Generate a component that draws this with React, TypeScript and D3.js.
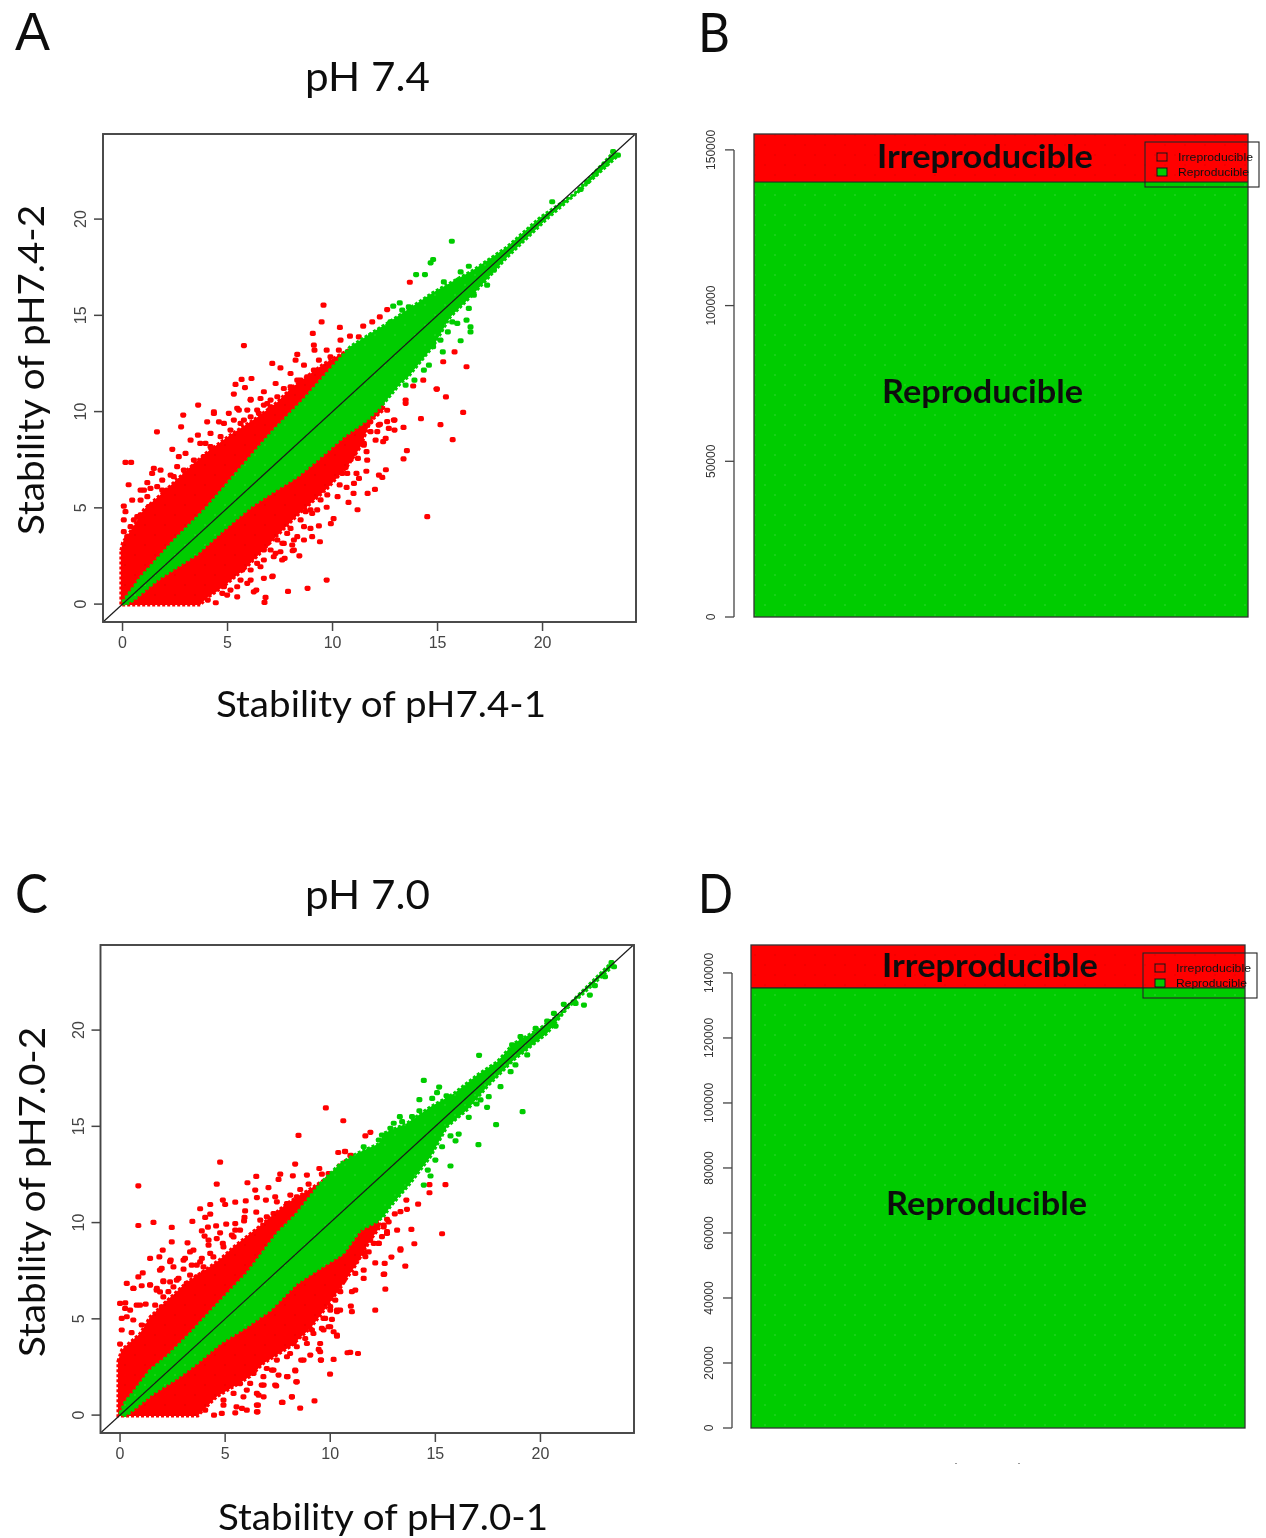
import React from 'react'
import * as d3 from 'd3'

type P = [number, number]

// pH 7.4 replicate scatter: dense band edges, then the single dots
const aRedUpper: P[] = [[-0.08, 2.8], [0, 3.2], [0.5, 4], [1, 4.9], [2.13, 6], [3, 6.9], [4.03, 7.9], [5.14, 8.8], [6.41, 9.7], [7.37, 10.5], [8, 11.2], [9.6, 12.5], [10.9, 13.3], [12, 14]]
const aRedLower: P[] = [[-0.08, -0.05], [3.7, -0.05], [4, 0.3], [4.8, 0.9], [5.9, 1.9], [7.05, 3.2], [8.32, 4.6], [9.75, 6], [10.7, 7.14], [11.34, 8.18], [11.81, 9.5], [12.45, 10.1]]
const aGreenUpper: P[] = [[0, 0.1], [0.86, 1.4], [2.44, 3.3], [4.03, 5.05], [5.6, 7.05], [7.2, 9.04], [8.6, 10.6], [10.86, 13.4], [12.76, 14.7], [14.8, 16.2], [16.7, 17.35], [18.3, 18.55], [19.9, 20.1], [21.5, 21.3], [23.4, 23.5]]
const aGreenLower: P[] = [[0.1, -0.05], [0.52, 0.2], [1.65, 1.25], [3.55, 2.6], [4.8, 3.84], [6.1, 5.05], [7.05, 5.75], [8.32, 6.62], [9.27, 7.48], [10.54, 8.7], [11.65, 9.56], [12.45, 10.43], [13.24, 11.47], [13.6, 11.8], [14.8, 13.4], [15.6, 14.9], [16.7, 16.1], [18.3, 18], [20.2, 20], [21.8, 21.5], [23.6, 23.3]]
const aRedDots: P[] = [
  [16.22, 9.96], [15.4, 10.76], [14.97, 11.17], [15.14, 9.32], [14.21, 9.63], [15.72, 8.54], [13.38, 9.18], [13.54, 7.97], [13.38, 7.54], [14.51, 4.54], [12.54, 6.98], [12.21, 6.7], [12.37, 6.58], [12.02, 5.96], [11.67, 5.75], [11, 5.75], [11.61, 6.9], [10.24, 5.58], [10.76, 5.28], [11.19, 4.9], [9.72, 5.03], [10.05, 4.44], [9.92, 4.18], [9.35, 4.06], [9.4, 3.24], [8.42, 2.51], [8.1, 2.77], [7.72, 2.38], [9.72, 1.25], [8.81, 0.82], [7.88, 0.66], [7.15, 1.46],
  [13.84, 11.33], [13.48, 10.6], [13.48, 10.43], [12.6, 9.48], [12.95, 9.56], [12.68, 9.13], [12.95, 9.04], [12.26, 9.34], [12.53, 8.61], [12.05, 8.52], [12.41, 8.44], [11.81, 8.96], [12.13, 8.96], [11.65, 7.48], [11.62, 7.92], [11.21, 7.57], [10.86, 7.52], [11.26, 8.52], [11.49, 8.26], [11.1, 8.09], [11.14, 6.79], [11.26, 6.53], [11.02, 6.27], [10.67, 6.06], [10.34, 6.19], [10.62, 7.1], [10.7, 6.79], [10.46, 6.79], [10.07, 6.62], [9.83, 6.36], [9.75, 5.67], [9.43, 5.41], [9.11, 5.75], [9.51, 6.96], [10.07, 7.22], [9.03, 4.71], [8.72, 4.8], [8.95, 3.93], [9.03, 3.5], [8.64, 4.02], [8.32, 3.5], [8.08, 3.07], [7.29, 2.64], [7.61, 3.16],
  [2.79, 9.21], [2.89, 9.82], [3.6, 10.34], [1.64, 8.95], [0.14, 7.36], [0.41, 7.36], [0.29, 6.2], [0.06, 5.09], [0.46, 5.4], [0.86, 5.4], [0.54, 4.37], [0.06, 4.37], [0.06, 3.76], [0.7, 4.54], [1.18, 6.31], [1.49, 7.05], [1.81, 6.96], [1.41, 6.79], [2.13, 5.92], [2.37, 8.04], [2.68, 7.66], [3, 7.83], [3.24, 8.52], [3.59, 8.78], [4.03, 9.47], [4.35, 9.99], [4.59, 9.47], [5.06, 9.91], [5.46, 10.17], [5.78, 9.56], [6.1, 10.6], [6.73, 10.34], [7.05, 10.6], [6.49, 9.91], [3.95, 8.35], [3.7, 7.4], [3.4, 7.14], [2.6, 7.14], [2.29, 6.7], [1.89, 6.44], [1.33, 6.01], [1.02, 5.92], [0.14, 4.8],
  [6.81, 0.35], [6.76, 0.09], [6.37, 0.73], [6.25, 0.64], [7.13, 1.42], [6.73, 1.34], [4.44, 0.07], [4.06, 0.21], [7.6, 2.29], [7.52, 2.72], [8.16, 2.81], [8.16, 3.33], [8.64, 3.33], [4.83, 0.9], [4.98, 0.47], [5.46, 0.9], [5.46, 0.38], [5.94, 1.08], [6.1, 1.77], [6.57, 1.94], [7.05, 2.81], [6.41, 2.72], [7.2, 2.46], [7.68, 3.15], [7.84, 3.67], [6.89, 3.15], [5.62, 2.46], [5.3, 1.77],
  [9.57, 15.53], [9.48, 14.66], [9.06, 14.06], [5.78, 13.43], [10.35, 14.37], [9.11, 13.45], [9.14, 13.19], [8.32, 12.97], [9.72, 13.19], [10.38, 13.71], [10.3, 13.19], [10.83, 13.92], [11.25, 13.88], [11.46, 14.44], [11.89, 14.66], [12.25, 14.92], [12.6, 15.3], [7.13, 12.5], [7.52, 12.27], [8.24, 12.67], [8.64, 12.41], [9.35, 12.67], [6.14, 11.72], [5.67, 11.67], [5.38, 11.41], [5.83, 11.25], [5.3, 10.91], [6.1, 10.63], [4.35, 9.9], [8, 11.98], [7.29, 11.46], [6.73, 11.03], [6.57, 10.68], [7.68, 11.2], [8.79, 11.81], [9.59, 12.15], [9.98, 12.15], [10.54, 12.93], [8.32, 11.63], [7.05, 10.25], [5.94, 10.08], [5.54, 10.08],
  [13.68, 16.72], [15.81, 13.1], [15.27, 12.59], [16.38, 12.33], [14.32, 11.63], [14.95, 11.17], [12.6, 10.07], [12.92, 9.56], [12.2, 9.3], [11.8, 9.47], [11.65, 9.3],
  [3.71, 0.9], [4.03, 0.73], [4.35, 1.42], [4.67, 1.6], [5.14, 1.94], [5.46, 2.46], [5.94, 2.63], [6.25, 2.63], [6.73, 2.81], [7.13, 3.67], [7.52, 4.19], [8, 3.93], [8.48, 4.37], [8.95, 4.89], [9.43, 5.92], [9.9, 6.62], [10.54, 7.14], [11.02, 7.83], [11.49, 8.35], [4.35, 0.73], [4.75, 0.56], [5.14, 0.73], [5.62, 1.25], [6.1, 1.25], [5.7, 1.77], [6.41, 2.12], [6.73, 2.29], [7.37, 3.33], [8, 4.71], [8.64, 5.41], [9.27, 4.89],
  [0.86, 5.92], [1.18, 5.58], [1.65, 6.1], [1.89, 5.92], [2.44, 6.62], [2.92, 6.96], [3.4, 7.48], [3.24, 6.79], [3.87, 7.66], [4.19, 8.18], [4.67, 8.7], [5.14, 9.04], [5.62, 9.39], [6.1, 9.73], [4.83, 9.39], [5.3, 9.56], [4.19, 8.87], [3.7, 8.35], [0.22, 3.5], [0.38, 4.02], [0.86, 4.63], [1.25, 5.06], [7.37, 10.77], [8, 11.29], [8.48, 11.63], [9.11, 12.15], [9.9, 12.85], [7.84, 10.6], [8.64, 11.11], [6.41, 10.08], [6.89, 10.42],
]
const aGreenDots: P[] = [
  [15.68, 18.85], [14.79, 17.9], [14.67, 17.73], [13.98, 17.12], [14.4, 17.12], [13.2, 15.65], [12.89, 15.48], [13.63, 15.44], [13.32, 15.27], [12.76, 14.66], [12.28, 14.23], [11.84, 13.97], [15.3, 16.74], [15.14, 16.14], [16.1, 17.26], [16.49, 17.55], [16, 16.83], [20.46, 20.9], [23.36, 23.5], [23.59, 23.32], [23, 22.84], [22.52, 22.33], [22.13, 21.94], [21.81, 21.54], [16.57, 14.4], [16.57, 14.14], [16.1, 13.68], [16.38, 14.75], [15.94, 14.58], [15.7, 14.66], [16.49, 15.36], [15.14, 13.71], [15.49, 14.14], [14.79, 13.37], [15.25, 13.1], [14.59, 12.41], [14.35, 12.15], [13.9, 11.63], [13.48, 11.37], [16.73, 16.05], [17.36, 16.57], [17.68, 17.35], [14.5, 15.62], [14.03, 15.18], [13.55, 14.75], [13.16, 14.58],
]

// pH 7.0 replicate scatter
const cRedUpper: P[] = [[-0.1, 2.8], [0.08, 3.4], [0.95, 4.24], [1.43, 5.11], [2.38, 6.1], [3.17, 6.9], [4.13, 7.6], [4.76, 8.1], [5.4, 8.74], [6.51, 9.7], [7.94, 11], [9.2, 11.86], [10.16, 12.55], [11.43, 13.6]]
const cRedLower: P[] = [[-0.1, -0.05], [3.7, -0.05], [3.81, 0.09], [4.6, 0.95], [5.4, 1.47], [6.19, 2], [6.82, 2.68], [8.1, 3.55], [9.05, 4.5], [9.68, 5.4], [10.48, 6.6], [11.27, 7.88], [11.91, 9.09], [12.38, 9.78]]
const cGreenUpper: P[] = [[0, 0.1], [0.24, 0.69], [0.71, 1.3], [1.43, 2.34], [2.22, 3.03], [3.33, 4.24], [4.44, 5.55], [6.03, 7.36], [7.46, 9.43], [8.41, 10.47], [9.52, 12.03], [10.48, 13.08], [11.27, 13.6], [12.31, 14.1], [12.54, 14.64], [13.65, 15.16], [14.77, 16.02], [15.88, 16.71], [16.99, 17.67], [17.94, 18.36], [18.73, 19.31], [19.85, 20], [20.96, 20.87], [21.6, 21.6], [23.34, 23.47]]
const cGreenLower: P[] = [[0.1, -0.05], [0.32, 0], [1.59, 1.13], [2.7, 1.9], [3.65, 2.68], [4.76, 3.72], [6.03, 4.59], [7.14, 5.45], [8.41, 6.84], [9.37, 7.53], [10.63, 8.4], [11.43, 9.6], [12.22, 10.04], [12.54, 10.31], [12.86, 10.83], [13.81, 12.04], [14.77, 13.42], [15.56, 14.98], [16.51, 15.85], [17.46, 17.06], [18.73, 18.45], [20.32, 19.83], [21.27, 21.13], [23.5, 23.38]]
const cRedDots: P[] = [
  [9.79, 15.96], [10.62, 15.29], [8.49, 14.53], [4.76, 13.14], [0.87, 11.91], [4.6, 12], [8.33, 13.04], [10.38, 13.64], [10.71, 13.69], [10.98, 13.49], [10.76, 13.16], [10.45, 12.93], [9.48, 12.81], [7.62, 12.52], [8.22, 12.43], [8.89, 12.47], [6.48, 12.4], [7.54, 12.24], [6.06, 12.07], [7.06, 11.82], [6.43, 11.69], [8.97, 12], [8.57, 11.72], [9.92, 12.55], [10.24, 12.59], [9.6, 12.52], [6.51, 11.3], [5.98, 11.13], [4.89, 11.17], [5, 10.94], [5.48, 11.06], [4.29, 10.94], [3.81, 10.72], [6.94, 11.17], [7.38, 11.34], [7.46, 11.08], [8.1, 11.43], [8.41, 11.34], [5.95, 10.61], [6.48, 10.54], [4.29, 10.44], [4.05, 10.27], [3.44, 10.06], [5.92, 10.27], [5.9, 10.09], [0.87, 9.85], [1.59, 10.01], [2.46, 9.75], [4.18, 9.76], [4.57, 9.83], [5.05, 9.92], [5.48, 9.95], [3.89, 9.57], [2.46, 9], [3.21, 8.95], [4.02, 9.3], [4.76, 9.47], [4.6, 9.17], [4.21, 9.09], [4.21, 8.83], [4.89, 8.92], [5.32, 9.35], [5.48, 9.61], [1.43, 8.14], [1.87, 8.22], [2.03, 8.57], [3.33, 8.48], [3.89, 8.14], [3.49, 8.57], [3.02, 8.05], [2.41, 8.05], [1.98, 7.62], [2.54, 7.7], [3.02, 7.58], [3.41, 7.79], [1.08, 7.39], [0.87, 7.18], [0.32, 6.84], [0.64, 6.58], [1.03, 6.72], [1.43, 6.77], [2.06, 6.98], [1.75, 6.58], [2.38, 6.92], [2.78, 7.1], [2.54, 6.66], [1.9, 6.4], [3.81, 7.96], [4.29, 8.4], [3.33, 7.27], [2.94, 6.49], [0.25, 5.83], [0.79, 5.71], [1.22, 5.76], [1.67, 5.71], [2.06, 6.14], [2.46, 5.97], [0.24, 5.54], [1.98, 5.62],
  [0.63, 6.58], [0, 5.8], [0.95, 5.71], [0.48, 5.45], [0.08, 5.02], [0.32, 5.11], [0.63, 4.94], [0.08, 4.42], [0.55, 4.28], [1.03, 4.68], [0, 3.69], [1.9, 7.53], [2.38, 7.97], [3.09, 8.14], [3.65, 7.79], [3.97, 7.36], [2.7, 7.01], [2.06, 6.93], [1.43, 6.75], [1.74, 6.49], [2.3, 6.41], [2.7, 5.97],
  [8.57, 0.36], [8.17, 0.95], [7.7, 0.66], [9.25, 0.74], [6.51, 0.17], [6.51, 0.52], [5.48, 0.12], [4.84, 0.09], [4.47, 0], [4.05, 0.26], [5.87, 0.95], [6.59, 1.04], [4.92, 0.52], [6.03, 1.3], [6.74, 1.56], [7.38, 1.56], [7.94, 2], [8.41, 1.73], [7.22, 2.34], [7.54, 2.08], [9.99, 2.13], [8.33, 2.34], [8.73, 2.86], [9.05, 3.12], [9.52, 3.29], [9.55, 2.86], [10.16, 2.89], [10.82, 3.24], [11.32, 3.2], [12.14, 5.45], [12.62, 6.54], [12.14, 7.91], [12.59, 7.88], [12.54, 7.31], [11.03, 6.41], [11.19, 6.49], [10.98, 5.66], [11.03, 5.37], [11.59, 7.1], [11.59, 7.53], [10.32, 4.15], [9.52, 3.72], [10, 4.59], [9.6, 4.5], [9.13, 4.42], [8.81, 3.98], [8.09, 3.2], [7.78, 3.64], [6.98, 3.2], [6.35, 2.86], [6.98, 2.42], [6.19, 1.65], [10.32, 5.45], [9.68, 5.02], [10.24, 5.97],
  [15.32, 9.42], [14, 8.9], [13.86, 9.65], [13.18, 9.61], [13.34, 8.57], [12.91, 8.21], [13.57, 7.74], [12.57, 7.32], [12.3, 8.92], [12.7, 9.44], [12.54, 9.78], [12.78, 10.04], [12.07, 8.92], [11.83, 8.48], [11.67, 8.23], [11.27, 8.14], [11.19, 7.36], [10.8, 7.71], [10.32, 7.01], [10.48, 6.41], [10, 6.23], [10.32, 5.37], [10, 5.45], [10.08, 4.97], [9.76, 5.02], [9.92, 4.59], [10.16, 4.33], [10.32, 4.1], [9.45, 3.41], [10.95, 3.26], [9.56, 2.86], [8.62, 2.86], [8.34, 2.29], [8.38, 1.73], [7.97, 2], [7.43, 1.52], [8.18, 0.95], [7.73, 0.66], [6.56, 0.52], [6.54, 0.17], [6.83, 0.95], [5.8, 0.35], [7.3, 2.34], [6.83, 1.56], [7.07, 3.03], [8.26, 3.72],
  [11.91, 14.69], [11.67, 14.5], [10.7, 13.7], [10.96, 13.48], [15.48, 11.97], [14.72, 11.97], [14.72, 11.55], [14.18, 10.96], [13.62, 11.17], [13.65, 10.69], [13.34, 10.57], [13.07, 10.45], [12.7, 10.17], [13.34, 8.63], [12.7, 9.53], [12.54, 9.87], [12.31, 8.92], [12.46, 9.27],
  [5.4, 9.26], [5.71, 9.61], [4.92, 8.74], [4.44, 8.22], [3.97, 7.7], [3.65, 7.18], [3.17, 6.84], [2.86, 6.14], [2.22, 5.8], [6.67, 10.13], [7.3, 10.47], [7.94, 10.99], [8.57, 11.17], [9.2, 11.51], [6.98, 10.3],
  [4.92, 0.78], [5.4, 1.13], [5.71, 1.64], [6.35, 2.16], [6.82, 2], [6.51, 1.13], [5.54, 0.43], [6.03, 0.26], [7.46, 2.86], [7.94, 3.03], [8.41, 3.55], [8.89, 3.72], [9.2, 4.24], [9.68, 4.42], [8.89, 4.94], [9.37, 5.28], [10, 5.63], [10.47, 5.45], [10, 6.5], [10.63, 7], [11.11, 7.88], [11.59, 8.4], [11.9, 9.09],
]
const cGreenDots: P[] = [
  [23.38, 23.5], [23.5, 23.29], [23.07, 22.77], [22.59, 22.31], [22.35, 21.82], [22.07, 21.3], [21.67, 21.39], [21.11, 21.34], [20.64, 20.87], [20.32, 20.47], [20.72, 20.21], [20.08, 20], [19.77, 20.09], [19.05, 19.66], [18.65, 19.23], [19.37, 18.71], [18.81, 18.19], [17.08, 18.69], [14.45, 17.39], [15.18, 17.04], [15.08, 16.75], [14.24, 16.39], [14.85, 16.45], [15.53, 16.59], [14.24, 15.81], [13.31, 15.5], [13.02, 15.16], [13.42, 15.24], [13.89, 15.5], [12.86, 14.9], [12.46, 14.55], [12.31, 14.29], [11.59, 13.94], [11.86, 13.77], [19.15, 15.76], [17.89, 15.09], [17.05, 14.05], [15.72, 12.94], [15.96, 14.25], [15.72, 14.5], [16.11, 14.6], [16.59, 15.47], [17.46, 15.99], [17.54, 16.54], [17.15, 16.37], [16.96, 16.16], [15.32, 13.94], [15, 13.25], [14.77, 12.42], [14.64, 12.73], [14.45, 11.95], [18.1, 17.06], [18.58, 17.84],
]

const scatterTicks = [0, 5, 10, 15, 20]

// stacked bars: reproducible first, irreproducible on top
const bCounts = [139700, 15400]
const bTicks = [0, 50000, 100000, 150000]
const dCounts = [135400, 13200]
const dTicks = [0, 20000, 40000, 60000, 80000, 100000, 120000, 140000]
const legendLabels = ['Irreproducible', 'Reproducible']

const RED = '#ff0000'
const GREEN = '#00cc00'
const AXIS = '#444'
const CALIBRI = 'Lato, Carlito, sans-serif'
const HELV = '"Liberation Sans", Arial, sans-serif'

const Scatter = ({ box, redUp, redLow, greenUp, greenLow, redDots, greenDots, xTitle, yTitle, xTitleAt, yTitleAt }: any) => {
  const xS = d3.scaleLinear().domain([-0.93, 24.45]).range([box.left, box.right])
  const yS = d3.scaleLinear().domain([-0.93, 24.42]).range([box.bottom, box.top])
  const line = d3.line<P>().x(d => xS(d[0])).y(d => yS(d[1]))
  const band = (up: P[], low: P[]) => (line([...up, ...[...low].reverse()]) as string) + 'Z'
  const redBand = band(redUp, redLow)
  const greenBand = band(greenUp, greenLow)
  const dot = (d: P, i: number, fill: string) => (
    <rect key={i} x={xS(d[0]) - 3} y={yS(d[1]) - 2.6} width={6} height={5.2} rx={1.8} fill={fill} />
  )
  return (
    <g>
      <g>{redDots.map((d: P, i: number) => dot(d, i, RED))}</g>
      <path d={redBand} fill={RED} stroke={RED} strokeWidth={3} strokeDasharray="3 2" />
      <path d={redBand} fill="url(#dotsRed)" />
      <g>{greenDots.map((d: P, i: number) => dot(d, i, GREEN))}</g>
      <path d={greenBand} fill={GREEN} stroke={GREEN} strokeWidth={3} strokeDasharray="3 2" />
      <path d={greenBand} fill="url(#dotsGreen)" />
      <line x1={xS(-0.93)} y1={yS(-0.93)} x2={xS(24.42)} y2={yS(24.42)} stroke="#1a1a1a" strokeWidth={1.2} />
      <rect x={box.left} y={box.top} width={box.right - box.left} height={box.bottom - box.top} fill="none" stroke={AXIS} strokeWidth={1.9} />
      {scatterTicks.map(t => (
        <g key={t} fill={AXIS} fontFamily={HELV} fontSize={16}>
          <line x1={xS(t)} x2={xS(t)} y1={box.bottom} y2={box.bottom + 9} stroke={AXIS} strokeWidth={1.5} />
          <text x={xS(t)} y={box.bottom + 26} textAnchor="middle">{t}</text>
          <line x1={box.left - 9} x2={box.left} y1={yS(t)} y2={yS(t)} stroke={AXIS} strokeWidth={1.5} />
          <text transform={`translate(${box.left - 17},${yS(t)}) rotate(-90)`} textAnchor="middle">{t}</text>
        </g>
      ))}
      <text x={xTitleAt[0]} y={xTitleAt[1]} fontFamily={CALIBRI} fontSize={36} fill="#111" textLength={330} lengthAdjust="spacingAndGlyphs">{xTitle}</text>
      <text transform={`translate(${yTitleAt[0]},${yTitleAt[1]}) rotate(-90)`} fontFamily={CALIBRI} fontSize={36} fill="#111" textLength={330} lengthAdjust="spacingAndGlyphs">{yTitle}</text>
    </g>
  )
}

const StackedBar = ({ box, counts, ticks, axisX, legend, irrepAt, repAt }: any) => {
  const total = d3.sum(counts as number[])
  const yS = d3.scaleLinear().domain([0, total]).range([box.bottom, box.top])
  const rep = counts[0]
  const w = box.right - box.left
  return (
    <g>
      <rect x={box.left} y={yS(rep)} width={w} height={box.bottom - yS(rep)} fill={GREEN} />
      <rect x={box.left} y={yS(rep)} width={w} height={box.bottom - yS(rep)} fill="url(#dotsGreen)" />
      <rect x={box.left} y={yS(total)} width={w} height={yS(rep) - yS(total)} fill={RED} />
      <rect x={box.left} y={yS(total)} width={w} height={yS(rep) - yS(total)} fill="url(#dotsRed)" />
      <rect x={box.left} y={box.top} width={w} height={box.bottom - box.top} fill="none" stroke="#333" strokeWidth={1.3} />
      <line x1={box.left} x2={box.right} y1={yS(rep)} y2={yS(rep)} stroke="#222" strokeWidth={1.1} />
      <line x1={axisX} x2={axisX} y1={yS(ticks[0])} y2={yS(ticks[ticks.length - 1])} stroke={AXIS} strokeWidth={1.3} />
      {ticks.map((t: number) => (
        <g key={t}>
          <line x1={axisX - 9} x2={axisX} y1={yS(t)} y2={yS(t)} stroke={AXIS} strokeWidth={1.3} />
          <text transform={`translate(${axisX - 19},${yS(t)}) rotate(-90)`} textAnchor="middle" fontFamily={HELV} fontSize={12} fill="#333">{t}</text>
        </g>
      ))}
      <text x={irrepAt[0]} y={irrepAt[1]} fontFamily={CALIBRI} fontWeight={700} fontSize={33} fill="#111" textLength={216} lengthAdjust="spacingAndGlyphs">{legendLabels[0]}</text>
      <text x={repAt[0]} y={repAt[1]} fontFamily={CALIBRI} fontWeight={700} fontSize={33} fill="#111" textLength={201} lengthAdjust="spacingAndGlyphs">{legendLabels[1]}</text>
      <rect x={legend.x} y={legend.y} width={114} height={45} fill="none" stroke="#222" strokeWidth={1.1} />
      {legendLabels.map((l, i) => (
        <g key={l}>
          <rect x={legend.x + 12} y={legend.y + 11 + i * 15} width={10} height={8} fill={i === 0 ? RED : GREEN} stroke="#111" strokeWidth={1} />
          <text x={legend.x + 33} y={legend.y + 19 + i * 15} fontFamily={HELV} fontSize={11.5} fill="#111" textLength={i === 0 ? 75 : 71} lengthAdjust="spacingAndGlyphs">{l}</text>
        </g>
      ))}
    </g>
  )
}

const Label = ({ x, y, size, len, family = CALIBRI, children }: any) => (
  <text x={x} y={y} fontFamily={family} fontSize={size} fill="#111" textLength={len} lengthAdjust="spacingAndGlyphs">{children}</text>
)

export default function App() {
  return (
    <svg width={1266} height={1538} style={{ position: 'absolute', top: 0, left: 0, background: '#fff' }}>
      <defs>
        <filter id="soft" x="0" y="0" width="100%" height="100%">
          <feGaussianBlur stdDeviation={0.45} />
        </filter>
        <pattern id="dotsGreen" width={20} height={20} patternUnits="userSpaceOnUse">
          <circle cx={5} cy={5} r={0.8} fill="#4fe04f" opacity={0.6} />
          <circle cx={15} cy={15} r={0.8} fill="#4fe04f" opacity={0.6} />
        </pattern>
        <pattern id="dotsRed" width={20} height={20} patternUnits="userSpaceOnUse">
          <circle cx={5} cy={5} r={0.8} fill="#c80000" opacity={0.5} />
          <circle cx={15} cy={15} r={0.8} fill="#c80000" opacity={0.5} />
        </pattern>
      </defs>
      <g filter="url(#soft)">
        <rect width={1266} height={1538} fill="#fff" />
        <Label x={15} y={49.5} size={54} len={35} family={HELV}>A</Label>
        <Label x={698} y={52} size={54} len={32}>B</Label>
        <Label x={15} y={913} size={54} len={33}>C</Label>
        <Label x={698} y={913} size={54} len={35}>D</Label>
        <Label x={305} y={91} size={41} len={125}>pH 7.4</Label>
        <Label x={305} y={909} size={41} len={125}>pH 7.0</Label>
        <Scatter box={{ left: 103, right: 636, top: 134, bottom: 622 }}
          redUp={aRedUpper} redLow={aRedLower} greenUp={aGreenUpper} greenLow={aGreenLower} redDots={aRedDots} greenDots={aGreenDots}
          xTitle="Stability of pH7.4-1" yTitle="Stability of pH7.4-2" xTitleAt={[216, 717]} yTitleAt={[44, 535]} />
        <Scatter box={{ left: 100.5, right: 634, top: 945, bottom: 1433 }}
          redUp={cRedUpper} redLow={cRedLower} greenUp={cGreenUpper} greenLow={cGreenLower} redDots={cRedDots} greenDots={cGreenDots}
          xTitle="Stability of pH7.0-1" yTitle="Stability of pH7.0-2" xTitleAt={[218, 1530]} yTitleAt={[45, 1357]} />
        <StackedBar box={{ left: 754, right: 1248, top: 134, bottom: 617 }} counts={bCounts} ticks={bTicks} axisX={734}
          legend={{ x: 1145, y: 142 }} irrepAt={[877, 168]} repAt={[882, 403]} />
        <StackedBar box={{ left: 751, right: 1245, top: 945, bottom: 1428 }} counts={dCounts} ticks={dTicks} axisX={732}
          legend={{ x: 1143, y: 953 }} irrepAt={[882, 977]} repAt={[886, 1215]} />
        <rect x={955} y={1463} width={2} height={1} fill="#999" />
        <rect x={1018} y={1463} width={2} height={1} fill="#999" />
      </g>
    </svg>
  )
}
